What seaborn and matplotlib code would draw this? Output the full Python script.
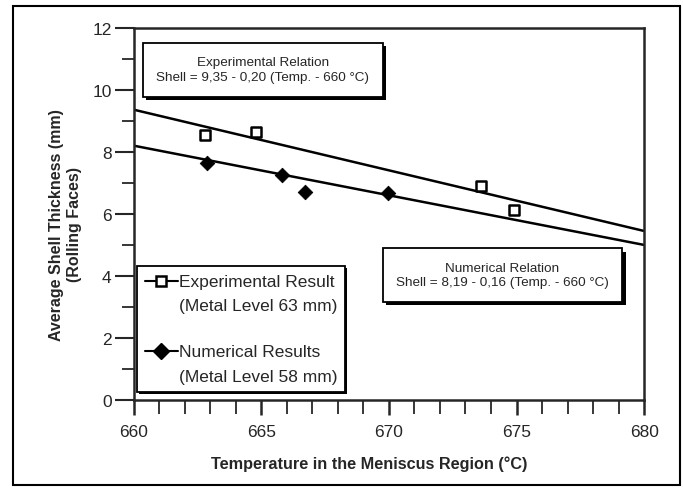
import matplotlib
matplotlib.use("Agg")
import matplotlib.pyplot as plt
import matplotlib.patheffects as pe
from matplotlib.lines import Line2D
from matplotlib.patches import Rectangle
from matplotlib.ticker import MultipleLocator
import seaborn as sns
import pandas as pd

# measured points
exp_temp = [662.8, 664.8, 673.6, 674.9]
exp_shell = [8.55, 8.63, 6.91, 6.14]
num_temp = [662.85, 665.8, 666.7, 669.95]
num_shell = [7.65, 7.27, 6.72, 6.68]

# fitted relations (end points)
fit_temp = [660, 680]
exp_fit = [9.36, 5.45]
num_fit = [8.2, 5.0]

sns.set_style("ticks")
plt.rcParams['font.family'] = ['Liberation Sans', 'DejaVu Sans']

fig = plt.figure(figsize=(6.83, 4.89), dpi=100)
ax = fig.add_axes([0.196, 0.18, 0.747, 0.761])

# outer frame around the whole figure
fig.patches.append(Rectangle((0.019, 0.006), 0.977, 0.98, transform=fig.transFigure,
                             fill=False, lw=1.5, ec="black"))

fit_df = pd.DataFrame({"T": fit_temp * 2, "S": exp_fit + num_fit,
                       "rel": ["exp"] * 2 + ["num"] * 2})
for rel, grp in fit_df.groupby("rel"):
    sns.lineplot(data=grp, x="T", y="S", ax=ax, color="black", lw=1.8)

sns.scatterplot(x=exp_temp, y=exp_shell, ax=ax, marker="s", s=45, facecolor="white",
                edgecolor="black", linewidth=1.8, zorder=3)
sns.scatterplot(x=num_temp, y=num_shell, ax=ax, marker="D", s=55, color="black",
                edgecolor="black", zorder=3)

ax.set_xlim(660, 680)
ax.set_ylim(0, 12)
ax.xaxis.set_major_locator(MultipleLocator(5))
ax.xaxis.set_minor_locator(MultipleLocator(1))
ax.yaxis.set_major_locator(MultipleLocator(2))
ax.yaxis.set_minor_locator(MultipleLocator(1))
ax.tick_params(which="both", labelsize=12.5)
ax.tick_params(axis="x", which="major", length=11, width=1.8, pad=6)
ax.tick_params(axis="x", which="minor", length=10, width=1.3)
ax.tick_params(axis="y", which="major", length=14, width=1.5, pad=2)
ax.tick_params(axis="y", which="minor", length=9, width=1.3)
for s in ax.spines.values():
    s.set_linewidth(1.8)

ax.set_xlabel("Temperature in the Meniscus Region (°C)", fontsize=11.7, fontweight="bold")
ax.set_ylabel("Average Shell Thickness (mm)\n(Rolling Faces)", fontsize=11.5,
              fontweight="bold")
ax.xaxis.set_label_coords(0.461, -0.15)
ax.yaxis.set_label_coords(-0.102, 0.473)

shadow = [pe.SimplePatchShadow(offset=(2.5, -2.5), shadow_rgbFace="black", alpha=1), pe.Normal()]
box = dict(boxstyle="square,pad=1.0", fc="white", ec="black", lw=1.3)

t1 = ax.text(665.06, 10.65, "Experimental Relation\nShell = 9,35 - 0,20 (Temp. - 660 °C)",
             ha="center", va="center", fontsize=9.7, bbox=box, linespacing=1.3)
t2 = ax.text(674.45, 4.03, "Numerical Relation\nShell = 8,19 - 0,16 (Temp. - 660 °C)",
             ha="center", va="center", fontsize=9.7, bbox=box, linespacing=1.3)
for t in (t1, t2):
    t.get_bbox_patch().set_path_effects(shadow)

blank = Line2D([], [], color="none")
handles = [
    Line2D([], [], color="black", lw=1.5, marker="s", markersize=7,
           markerfacecolor="white", markeredgewidth=1.8),
    blank, blank,
    Line2D([], [], color="black", lw=1.5, marker="D", markersize=8),
    blank,
]
labels = ["Experimental Result", "(Metal Level 63 mm)", " ",
          "Numerical Results", "(Metal Level 58 mm)"]
leg = ax.legend(handles, labels, loc="lower left", bbox_to_anchor=(0.006, 0.022),
                fontsize=12.5, frameon=True, fancybox=False, edgecolor="black",
                framealpha=1, handlelength=1.9, handleheight=0.3, handletextpad=0.05,
                borderpad=0.45, labelspacing=0.55, borderaxespad=0)
leg.get_texts()[2].set_fontsize(5)
leg.get_frame().set_linewidth(1.3)
leg.get_frame().set_path_effects(
    [pe.SimplePatchShadow(offset=(1.5, -1.5), shadow_rgbFace="black", alpha=1), pe.Normal()])

fig.savefig("out.png", dpi=100)
